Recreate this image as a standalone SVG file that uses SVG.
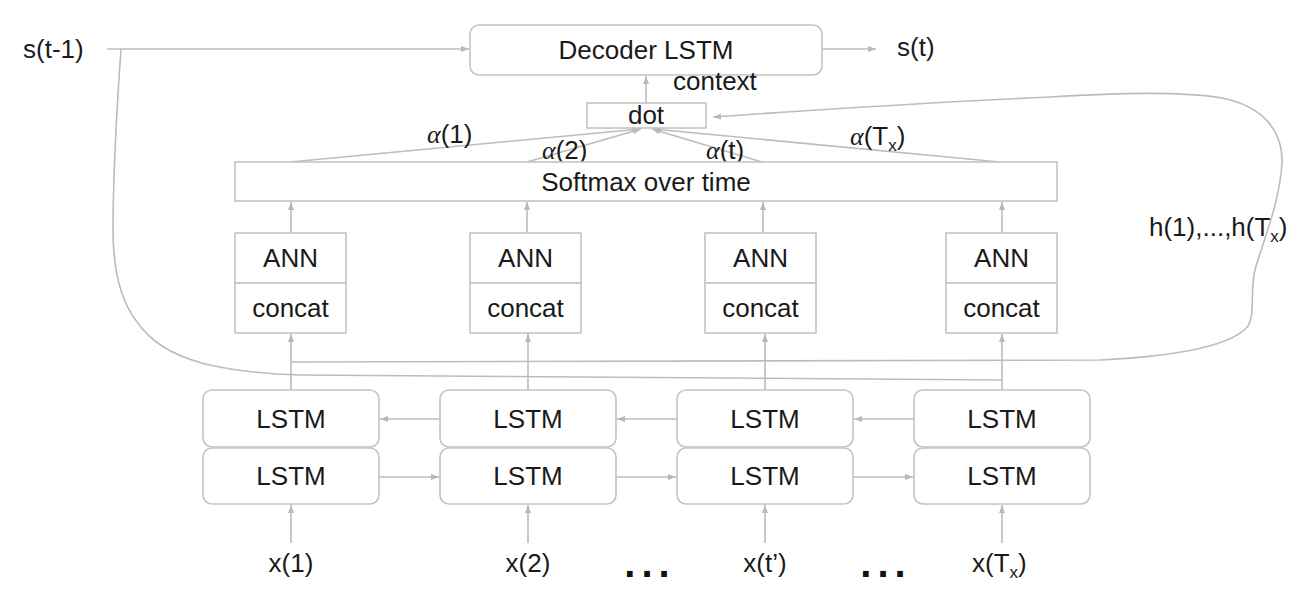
<svg xmlns="http://www.w3.org/2000/svg" width="1316" height="604" viewBox="0 0 1316 604">
<defs>
<marker id="ah" markerWidth="9" markerHeight="7" refX="8" refY="3.5" orient="auto" markerUnits="userSpaceOnUse"><path d="M0,0.5 L8,3.5 L0,6.5 z" fill="#b8b8b8"/></marker>
<style>
.t{font-family:"Liberation Sans",Arial,sans-serif;font-size:26px;fill:#1a1a1a}
.c{text-anchor:middle}
.a{font-family:"Liberation Serif","DejaVu Serif",serif;font-style:italic}
.dots{font-family:"Liberation Sans",Arial,sans-serif;font-size:40px;font-weight:bold;fill:#111;text-anchor:middle;letter-spacing:6px}
.box{fill:#fff;stroke:#c4c4c4;stroke-width:1.6}
.ln{fill:none;stroke:#bcbcbc;stroke-width:1.6}
.ar{fill:none;stroke:#bcbcbc;stroke-width:1.6;marker-end:url(#ah)}
</style>
</defs>
<rect width="1316" height="604" fill="#fff"/>
<g id="connectors">
<path class="ar" d="M107,49 L469,49"/>
<path class="ar" d="M822,49 L876,49"/>
<path class="ar" d="M646,103 L646,76"/>
<path class="ar" d="M290,162 L640,129"/>
<path class="ar" d="M527,162 L641,129"/>
<path class="ar" d="M762,162 L652,129"/>
<path class="ar" d="M1000,162 L653,129"/>
<path class="ar" d="M291,233 L291,202"/>
<path class="ar" d="M527,233 L527,202"/>
<path class="ar" d="M763,233 L763,202"/>
<path class="ar" d="M1002,233 L1002,202"/>
<path class="ar" d="M291,390 L291,334"/>
<path class="ar" d="M528,390 L528,334"/>
<path class="ar" d="M765,390 L765,334"/>
<path class="ar" d="M1002,390 L1002,334"/>
<path class="ar" d="M291,543 L291,505"/>
<path class="ar" d="M528,543 L528,505"/>
<path class="ar" d="M765,543 L765,505"/>
<path class="ar" d="M1002,543 L1002,505"/>
<path class="ar" d="M440,419 L380,419"/>
<path class="ar" d="M677,419 L617,419"/>
<path class="ar" d="M914,419 L854,419"/>
<path class="ar" d="M379,477 L439,477"/>
<path class="ar" d="M616,477 L676,477"/>
<path class="ar" d="M853,477 L913,477"/>
<path class="ar" d="M291,362 L1100,360 C1180,356 1232,346 1248,326 C1256,312 1249,288 1256,266 C1264,240 1280,200 1282,163 C1283,130 1262,106 1222,98 C1180,91 1120,93 1050,97 C900,104 800,111 713,117"/>
<path class="ln" d="M121,49 C116,120 113,170 113,230 C113,270 120,300 137,322 C150,340 168,354 205,364 C235,371 262,374 300,375 L1002,380"/>
</g>
<g id="s_prev"><text class="t" x="23" y="58">s(t-1)</text></g>
<g id="decoder"><rect class="box" x="470" y="25" width="352" height="50" rx="9"/><text class="t c" x="646" y="59">Decoder LSTM</text></g>
<g id="s_t"><text class="t" x="897" y="56">s(t)</text></g>
<g id="context"><text class="t" x="673" y="90">context</text></g>
<g id="dot"><rect class="box" x="587" y="103" width="119" height="25"/><text class="t c" x="646" y="124">dot</text></g>
<g id="alphas">
<text class="t" x="427" y="143"><tspan class="a">α</tspan>(1)</text>
<text class="t" x="542" y="159"><tspan class="a">α</tspan>(2)</text>
<text class="t" x="706" y="159"><tspan class="a">α</tspan>(t)</text>
<text class="t" x="850" y="145"><tspan class="a">α</tspan>(T<tspan font-size="17" dy="6">x</tspan><tspan dy="-6">)</tspan></text>
</g>
<g id="softmax"><rect class="box" x="235" y="162" width="822" height="39"/><text class="t c" x="646" y="191">Softmax over time</text></g>
<g id="ann1"><rect class="box" x="235" y="233" width="111" height="50"/><rect class="box" x="235" y="283" width="111" height="50"/><text class="t c" x="290.5" y="267">ANN</text><text class="t c" x="290.5" y="317">concat</text></g>
<g id="ann2"><rect class="box" x="470" y="233" width="111" height="50"/><rect class="box" x="470" y="283" width="111" height="50"/><text class="t c" x="525.5" y="267">ANN</text><text class="t c" x="525.5" y="317">concat</text></g>
<g id="ann3"><rect class="box" x="705" y="233" width="111" height="50"/><rect class="box" x="705" y="283" width="111" height="50"/><text class="t c" x="760.5" y="267">ANN</text><text class="t c" x="760.5" y="317">concat</text></g>
<g id="ann4"><rect class="box" x="946" y="233" width="111" height="50"/><rect class="box" x="946" y="283" width="111" height="50"/><text class="t c" x="1001.5" y="267">ANN</text><text class="t c" x="1001.5" y="317">concat</text></g>
<g id="h_label"><text class="t" x="1149" y="236">h(1),...,h(T<tspan font-size="17" dy="6">x</tspan><tspan dy="-6">)</tspan></text></g>
<g id="lstm1"><rect class="box" x="203" y="390" width="176" height="57" rx="9"/><rect class="box" x="203" y="448" width="176" height="56" rx="9"/><text class="t c" x="291" y="428">LSTM</text><text class="t c" x="291" y="485">LSTM</text></g>
<g id="lstm2"><rect class="box" x="440" y="390" width="176" height="57" rx="9"/><rect class="box" x="440" y="448" width="176" height="56" rx="9"/><text class="t c" x="528" y="428">LSTM</text><text class="t c" x="528" y="485">LSTM</text></g>
<g id="lstm3"><rect class="box" x="677" y="390" width="176" height="57" rx="9"/><rect class="box" x="677" y="448" width="176" height="56" rx="9"/><text class="t c" x="765" y="428">LSTM</text><text class="t c" x="765" y="485">LSTM</text></g>
<g id="lstm4"><rect class="box" x="914" y="390" width="176" height="57" rx="9"/><rect class="box" x="914" y="448" width="176" height="56" rx="9"/><text class="t c" x="1002" y="428">LSTM</text><text class="t c" x="1002" y="485">LSTM</text></g>
<g id="inputs">
<text class="t c" x="291" y="572">x(1)</text>
<text class="t c" x="528" y="572">x(2)</text>
<text class="t c" x="765" y="572">x(t’)</text>
<text class="t" x="972" y="572">x(T<tspan font-size="17" dy="6">x</tspan><tspan dy="-6">)</tspan></text>
<text class="dots" x="650" y="577">...</text>
<text class="dots" x="886" y="577">...</text>
</g>
</svg>
